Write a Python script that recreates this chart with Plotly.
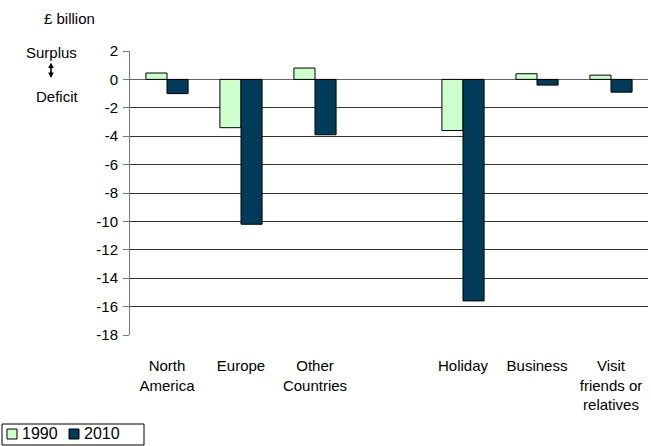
import plotly.graph_objects as go

# UK travel balance by destination and purpose, £ billion
categories = ["North<br>America", "Europe", "Other<br>Countries", " ",
              "Holiday", "Business", "Visit<br>friends or<br>relatives"]
series_names = ["1990", "2010"]
values_1990 = [0.45, -3.4, 0.8, None, -3.6, 0.4, 0.3]
values_2010 = [-1.0, -10.2, -3.9, None, -15.6, -0.4, -0.9]
y_ticks = list(range(-18, 3, 2))
y_tick_labels = [str(v) for v in y_ticks]  # plain hyphen minus signs

FONT = "Liberation Sans, Arial, sans-serif"
FS = 15
LEG_FS = 16
COLORS = ["#CCFFCC", "#003B5A"]

W, H = 651, 446
ML, MR, MT, MB = 130, 3, 51, 111
PW, PH = W - ML - MR, H - MT - MB


def px(x):
    """Horizontal pixel position -> paper coordinate."""
    return (x - ML) / PW


def py(y):
    """Vertical pixel position (from top) -> paper coordinate."""
    return (H - MB - y) / PH


fig = go.Figure()
for name, vals, col in zip(series_names, [values_1990, values_2010], COLORS):
    fig.add_bar(x=categories, y=vals, name=name, showlegend=False,
                marker=dict(color=col, line=dict(color="#000000", width=1)))

fig.update_layout(
    width=W, height=H,
    margin=dict(l=ML, r=MR, t=MT, b=MB),
    paper_bgcolor="white", plot_bgcolor="white",
    font=dict(family=FONT, size=FS, color="#000000"),
    barmode="group", bargap=0.43, bargroupgap=0,
)
fig.update_xaxes(showgrid=False, zeroline=False, showline=False,
                 ticks="", ticklabelstandoff=20, tickfont=dict(size=FS),
                 automargin=False)
fig.update_yaxes(range=[-18, 2], tickvals=y_ticks, ticktext=y_tick_labels,
                 showgrid=True, gridcolor="#333333", gridwidth=1,
                 zeroline=True, zerolinecolor="#666666", zerolinewidth=1,
                 showline=True, linecolor="#777777", linewidth=1,
                 ticks="outside", ticklen=6, tickcolor="#777777",
                 ticklabelstandoff=2, tickfont=dict(size=FS),
                 automargin=False)

# axis caption and surplus/deficit hint
fig.add_annotation(text="£ billion", xref="paper", yref="paper",
                   x=px(69), y=py(18), showarrow=False, xanchor="center",
                   yanchor="middle", font=dict(size=FS))
fig.add_annotation(text="Surplus", xref="paper", yref="paper",
                   x=px(51), y=py(52), showarrow=False, xanchor="center",
                   yanchor="middle", font=dict(size=FS))
fig.add_annotation(text="Deficit", xref="paper", yref="paper",
                   x=px(57), y=py(96), showarrow=False, xanchor="center",
                   yanchor="middle", font=dict(size=FS))
fig.add_annotation(text="", xref="paper", yref="paper",
                   x=px(51), y=py(78), ax=0, ay=-17,
                   showarrow=True, arrowside="end+start", arrowhead=2,
                   arrowsize=0.7, arrowwidth=1.6, arrowcolor="#000000")

# legend box in the lower-left corner
fig.add_shape(type="rect", xref="paper", yref="paper",
              x0=px(2), x1=px(144), y0=py(445), y1=py(424),
              line=dict(color="#000000", width=1), fillcolor="white")
for i, (name, col) in enumerate(zip(series_names, COLORS)):
    left = 7 + i * 62
    fig.add_shape(type="rect", xref="paper", yref="paper",
                  x0=px(left), x1=px(left + 10), y0=py(439), y1=py(429),
                  line=dict(color="#000000", width=1), fillcolor=col)
    fig.add_annotation(text=name, xref="paper", yref="paper",
                       x=px(left + 13), y=py(434), showarrow=False,
                       xanchor="left", yanchor="middle",
                       font=dict(size=LEG_FS))

fig.write_html("out.html")
